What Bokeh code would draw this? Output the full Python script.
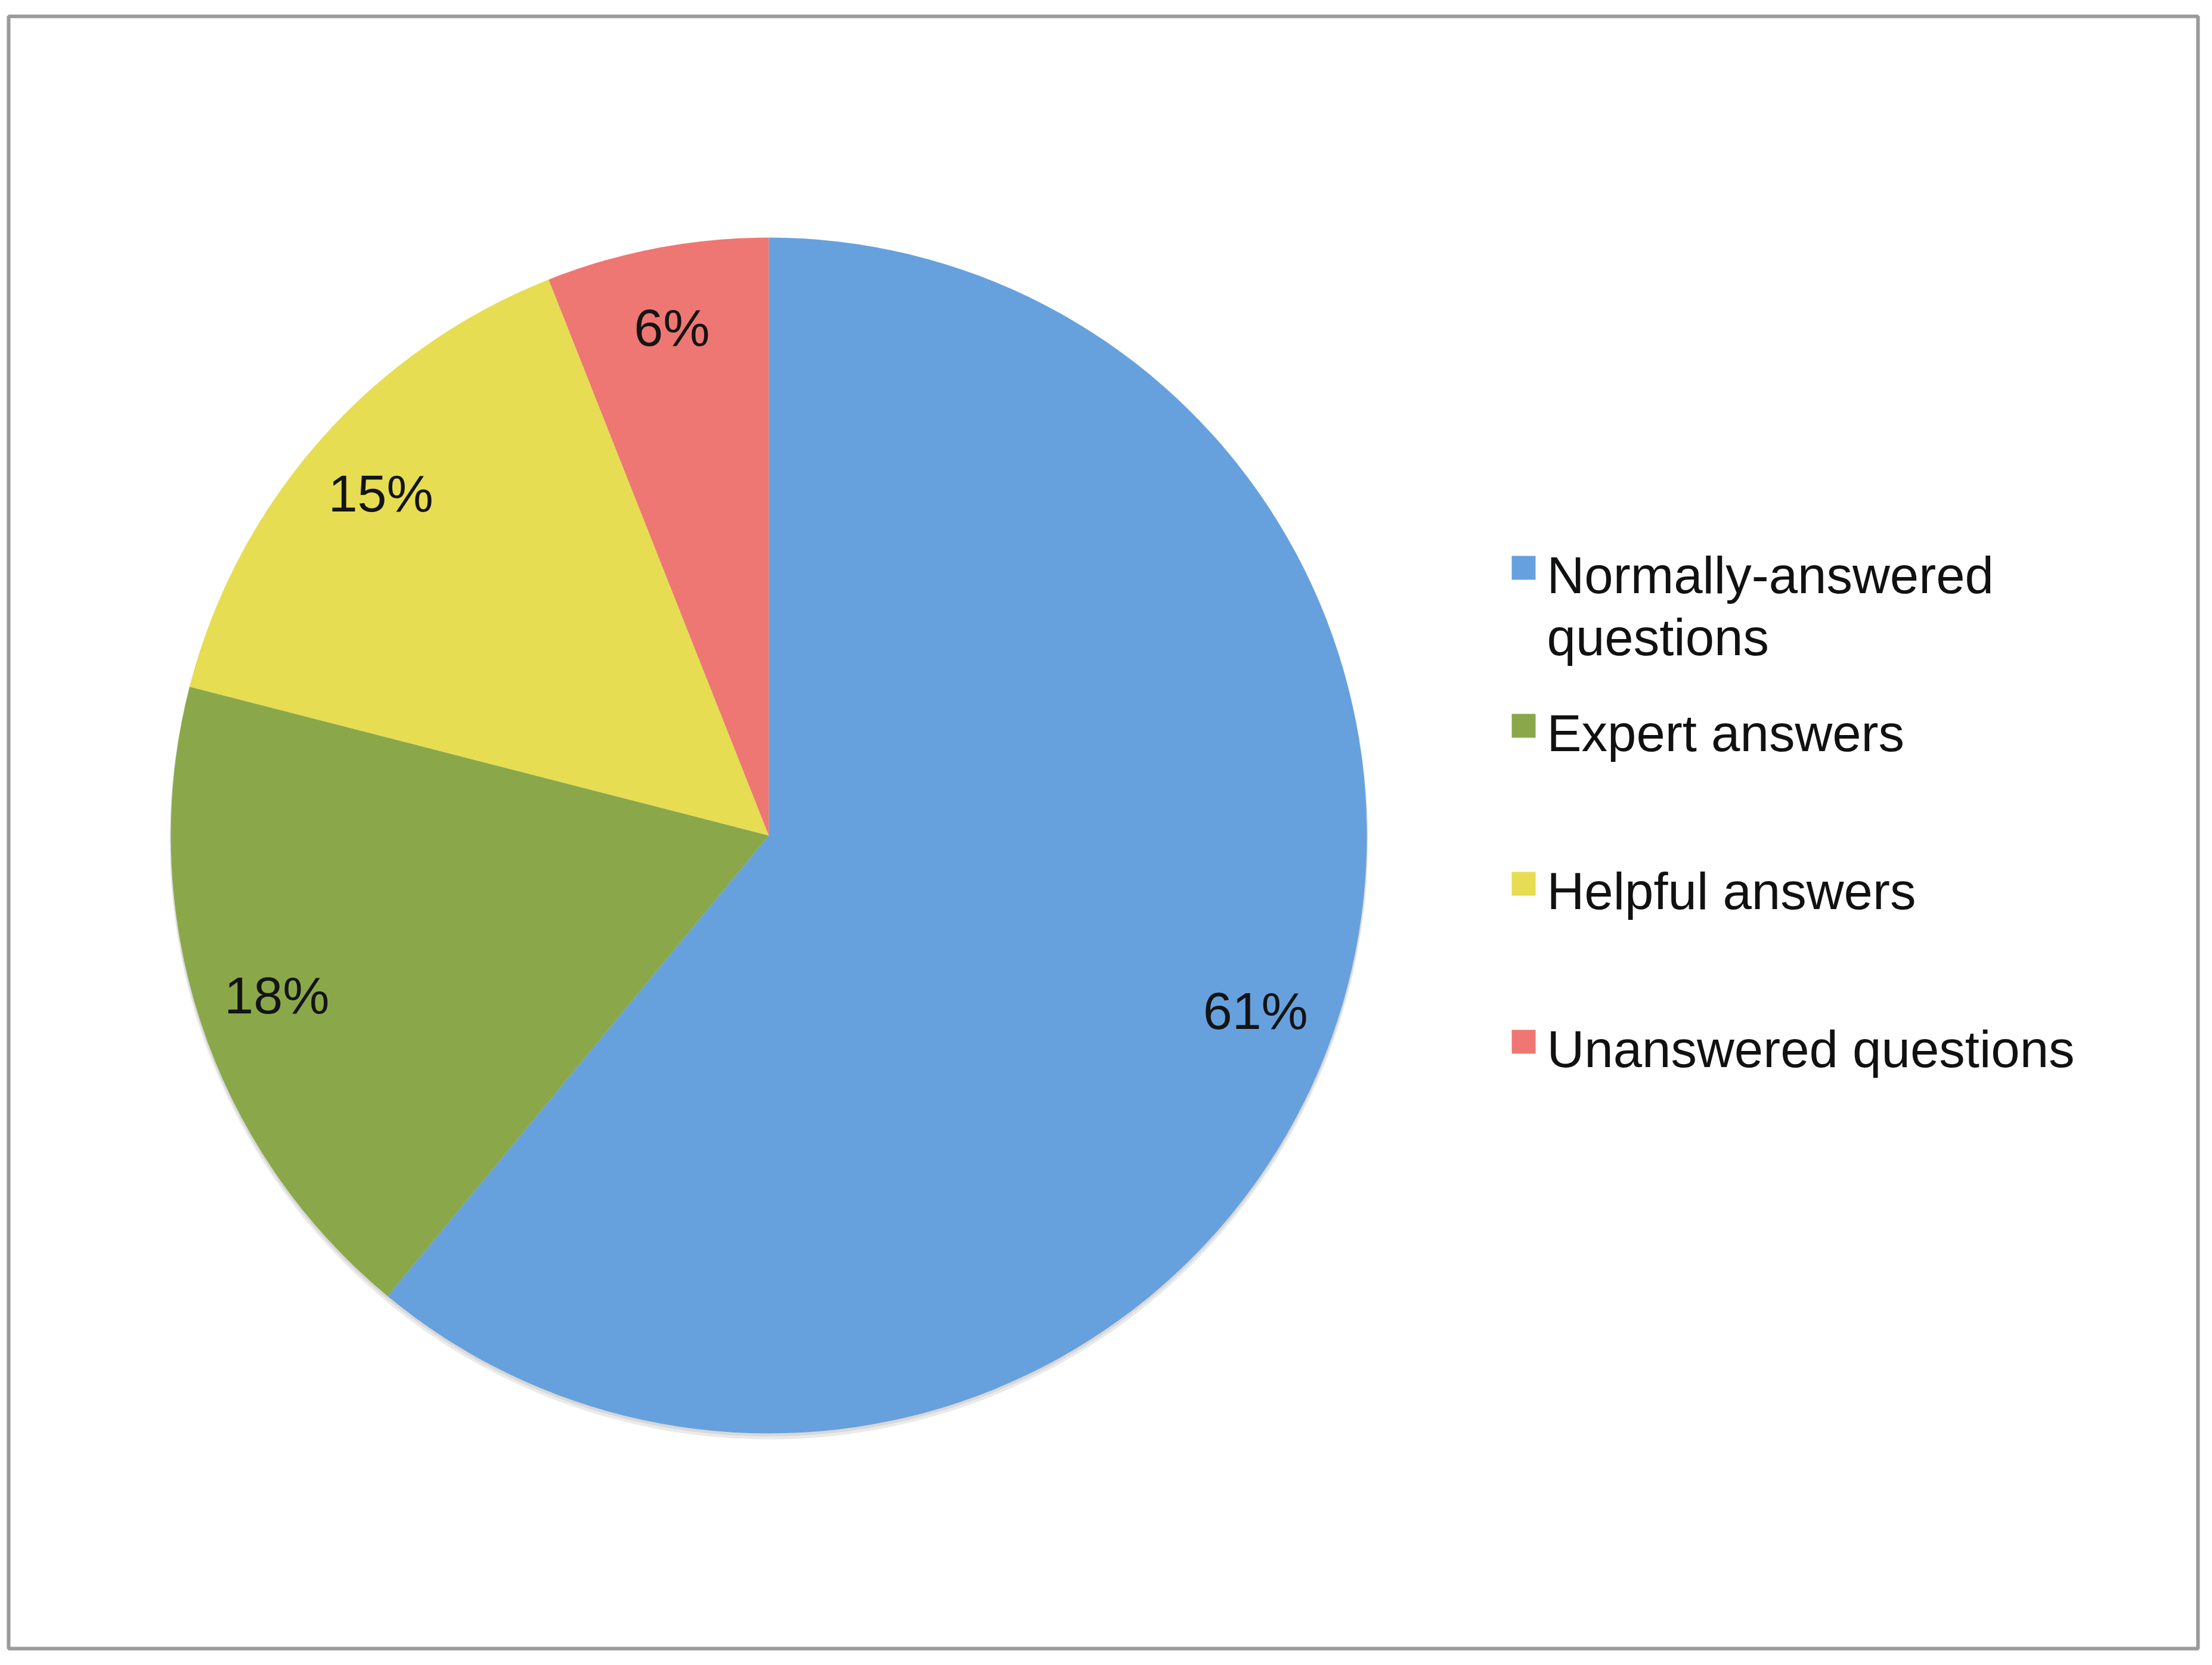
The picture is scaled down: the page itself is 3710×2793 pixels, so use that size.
import math
from bokeh.plotting import figure
from bokeh.models import Range1d
from bokeh.core.properties import value
from bokeh.embed import file_html
from bokeh.resources import INLINE

# ---- data ----
categories = ["Normally-answered\nquestions", "Expert answers", "Helpful answers", "Unanswered questions"]
shares = [61, 18, 15, 6]
colors = ["#66A1DE", "#8AA84A", "#E6DD52", "#EE7773"]
pct_labels = ["61%", "18%", "15%", "6%"]

W, H = 3694, 2777
FONT = "Liberation Sans"


def Y(img_y):
    # image y (top-down) -> data y (bottom-up)
    return H - img_y


def X(img_x):
    return img_x


p = figure(width=W, height=H, output_backend="svg", toolbar_location=None,
           x_range=Range1d(0, W), y_range=Range1d(0, H), min_border=0)
p.axis.visible = False
p.grid.visible = False
p.outline_line_color = None
p.background_fill_color = "white"
p.border_fill_color = "white"

# frame
p.quad(left=[X(14)], right=[X(3686)], top=[Y(27)], bottom=[Y(2765)],
       fill_color=None, line_color="#9a9a9a", line_width=6)

# pie
cx, cy, r = X(1289), Y(1401), 1003
total = float(sum(shares))
# soft shadow
p.circle(x=[cx], y=[cy - 8], radius=r + 2, fill_color="#b8b8b8", fill_alpha=0.3, line_color=None)
p.circle(x=[cx], y=[cy - 4], radius=r + 1, fill_color="#999999", fill_alpha=0.22, line_color=None)

cum = 0.0
starts, ends, mids = [], [], []
for s in shares:
    a0 = math.pi / 2 - 2 * math.pi * cum / total
    cum += s
    a1 = math.pi / 2 - 2 * math.pi * cum / total
    starts.append(a0)
    ends.append(a1)
    mids.append((a0 + a1) / 2)

p.wedge(x=[cx] * len(shares), y=[cy] * len(shares), radius=r,
        start_angle=starts, end_angle=ends, direction="clock",
        fill_color=colors, line_color=None)

# percentage labels
lr = 0.865 * r
lx = [cx + lr * math.cos(m) for m in mids]
ly = [cy + lr * math.sin(m) for m in mids]
p.text(x=lx, y=ly, text=pct_labels, text_align="center", text_baseline="middle",
       text_font=value(FONT), text_font_size="88px", text_color="#141414")

# legend
sq = 40
base0 = 994
step = 265
line_h = 104
tx = X(2594)
for i, (lab, col) in enumerate(zip(categories, colors)):
    b = base0 + step * i
    top = b - 62
    p.quad(left=[X(2535)], right=[X(2535 + sq)], top=[Y(top)], bottom=[Y(top + sq)],
           fill_color=col, line_color=None)
    for j, ln in enumerate(lab.split("\n")):
        p.text(x=[tx], y=[Y(b - 30 + j * line_h)], text=[ln], text_align="left",
               text_baseline="alphabetic", text_font=value(FONT),
               text_font_size="87px", text_color="#111111")

open("out.html", "w").write(file_html(p, INLINE))
